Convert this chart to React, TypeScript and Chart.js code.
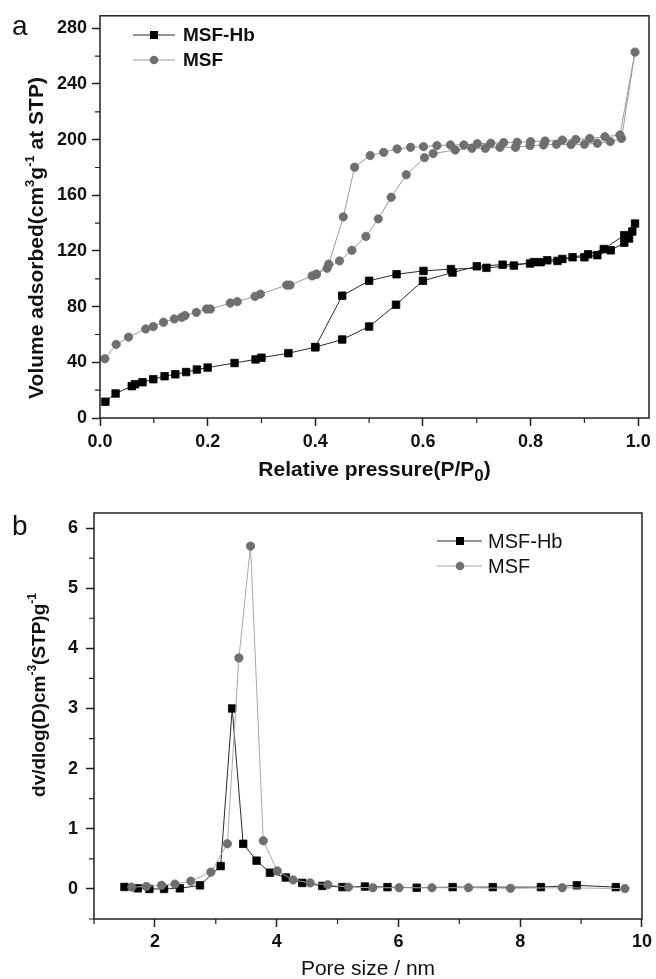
import React, { useEffect, useRef } from 'react';
import { Chart, registerables } from 'chart.js';

Chart.register(...registerables);

const FONT = '"Liberation Sans", Arial, Helvetica, sans-serif';

// ---- Panel a: N2 isotherms (adsorption then desorption, drawn as loops)
const hbPressure = [
  0.010, 0.029, 0.059, 0.065, 0.079, 0.099, 0.120, 0.140, 0.160, 0.180, 0.200, 0.250, 0.289, 0.300, 0.350, 0.400,
  0.450, 0.500, 0.550, 0.600, 0.655, 0.700, 0.748, 0.799, 0.819, 0.850, 0.878, 0.900, 0.924, 0.949, 0.974, 0.983, 0.994,
  0.989, 0.974, 0.936, 0.907, 0.859, 0.831, 0.806, 0.769, 0.718, 0.652, 0.601, 0.551, 0.500, 0.450, 0.400,
];
const hbVolume = [
  11.7, 17.6, 22.9, 24.3, 25.7, 27.9, 30.0, 31.4, 33.0, 34.8, 36.2, 39.5, 42.1, 43.3, 46.6, 50.9,
  56.4, 65.7, 81.4, 98.6, 104.5, 109.0, 110.2, 111.0, 112.0, 112.9, 115.5, 115.5, 117.0, 120.5, 126.0, 129.0, 139.7,
  134.0, 131.4, 121.4, 117.6, 114.3, 113.3, 112.0, 109.5, 107.9, 107.0, 105.7, 103.3, 98.6, 87.9, 50.9,
];
const msfPressure = [
  0.009, 0.030, 0.053, 0.085, 0.099, 0.118, 0.138, 0.152, 0.158, 0.179, 0.198, 0.205, 0.242, 0.255, 0.288, 0.298,
  0.347, 0.353, 0.394, 0.402, 0.422, 0.445, 0.468, 0.494, 0.517, 0.541, 0.569, 0.603, 0.619, 0.660, 0.691, 0.716,
  0.743, 0.772, 0.799, 0.824, 0.848, 0.875, 0.900, 0.924, 0.948, 0.969, 0.994,
  0.966, 0.938, 0.910, 0.884, 0.859, 0.827, 0.800, 0.775, 0.750, 0.726, 0.701, 0.676, 0.651, 0.626, 0.601, 0.577,
  0.552, 0.527, 0.502, 0.473, 0.452, 0.425, 0.402,
];
const msfVolume = [
  42.6, 52.9, 58.1, 64.0, 65.7, 68.8, 71.2, 72.4, 73.6, 75.9, 78.3, 78.3, 82.6, 83.6, 87.4, 89.0,
  95.5, 95.5, 102.1, 103.3, 107.6, 112.9, 120.5, 130.5, 143.1, 158.6, 174.8, 187.1, 190.0, 192.6, 193.8, 193.8,
  194.5, 194.5, 195.7, 196.2, 196.7, 196.5, 196.7, 197.4, 198.6, 200.9, 262.9,
  203.3, 202.1, 200.9, 200.2, 199.7, 199.0, 198.6, 198.1, 197.9, 197.4, 197.1, 196.2, 196.2, 195.7, 195.0, 194.5,
  193.3, 190.9, 188.6, 180.2, 144.5, 110.5, 103.3,
];

// ---- Panel b: pore size distribution
const hbPoreSize = [1.50, 1.72, 1.91, 2.15, 2.41, 2.74, 3.08, 3.27, 3.45, 3.67, 3.89, 4.15, 4.42, 4.75, 5.08, 5.45, 5.82, 6.30, 6.89, 7.55, 8.34, 8.93, 9.57];
const hbDv = [0.033, 0.01, 0.0, 0.0, 0.01, 0.06, 0.38, 3.0, 0.75, 0.47, 0.27, 0.19, 0.10, 0.05, 0.03, 0.04, 0.03, 0.02, 0.03, 0.03, 0.03, 0.06, 0.03];
const msfPoreSize = [1.62, 1.86, 2.11, 2.33, 2.59, 2.92, 3.19, 3.38, 3.57, 3.78, 4.01, 4.27, 4.55, 4.84, 5.18, 5.58, 6.01, 6.55, 7.15, 7.84, 8.69, 9.72];
const msfDv = [0.03, 0.04, 0.06, 0.08, 0.13, 0.28, 0.75, 3.84, 5.70, 0.80, 0.30, 0.15, 0.10, 0.07, 0.03, 0.02, 0.02, 0.02, 0.02, 0.01, 0.02, 0.005];

const seriesNames = ['MSF-Hb', 'MSF'];
const isoXMinor = [0.1, 0.3, 0.5, 0.7, 0.9];
const isoYMinor = [20, 60, 100, 140, 180, 220, 260];
const psdXMinor = [1, 3, 5, 7, 9];
const psdYMinor = [-0.5, 0.5, 1.5, 2.5, 3.5, 4.5, 5.5];

const toXY = (xs: number[], ys: number[]) => xs.map((x, i) => ({ x, y: ys[i] }));

type Seg = { t: string; size: number; dy: number };

function drawSegs(ctx: CanvasRenderingContext2D, segs: Seg[], weight: string, cx: number, baseY: number) {
  let total = 0;
  const widths: number[] = [];
  for (const s of segs) {
    ctx.font = `${weight} ${s.size}px ${FONT}`;
    const w = ctx.measureText(s.t).width;
    widths.push(w);
    total += w;
  }
  let x = cx - total / 2;
  ctx.textAlign = 'left';
  ctx.textBaseline = 'alphabetic';
  segs.forEach((s, i) => {
    ctx.font = `${weight} ${s.size}px ${FONT}`;
    ctx.fillText(s.t, x, baseY + s.dy);
    x += widths[i];
  });
}

interface Decor {
  letter: string;
  letterX: number;
  letterY: number;
  xTitle: Seg[];
  xTitleWeight: string;
  xTitleY: number;
  yTitle: Seg[];
  yTitleX: number;
  yTitleCY: number;
  xMinor: number[];
  yMinor: number[];
  legend: { x0: number; x1: number; xm: number; xt: number; ys: number[]; weight: string; size: number; lineColors: string[] };
}

function decorPlugin(d: Decor) {
  return {
    id: 'decor',
    afterDraw(chart: any) {
      const ctx: CanvasRenderingContext2D = chart.ctx;
      const a = chart.chartArea;
      const xs = chart.scales.x;
      const ys = chart.scales.y;
      ctx.save();
      // frame
      ctx.strokeStyle = '#222';
      ctx.lineWidth = 1.5;
      ctx.strokeRect(a.left, a.top, a.right - a.left, a.bottom - a.top);
      // minor ticks
      ctx.lineWidth = 1.2;
      ctx.beginPath();
      for (const v of d.xMinor) {
        const px = xs.getPixelForValue(v);
        ctx.moveTo(px, a.bottom);
        ctx.lineTo(px, a.bottom + 5);
      }
      for (const v of d.yMinor) {
        const py = ys.getPixelForValue(v);
        ctx.moveTo(a.left, py);
        ctx.lineTo(a.left - 5, py);
      }
      ctx.stroke();
      // legend
      const L = d.legend;
      d.legend.ys.forEach((y, i) => {
        ctx.strokeStyle = L.lineColors[i];
        ctx.lineWidth = 1;
        ctx.beginPath();
        ctx.moveTo(L.x0, y);
        ctx.lineTo(L.x1, y);
        ctx.stroke();
        if (i === 0) {
          ctx.fillStyle = '#000';
          ctx.fillRect(L.xm - 4, y - 4, 8, 8);
        } else {
          ctx.fillStyle = '#6f6f6f';
          ctx.beginPath();
          ctx.arc(L.xm, y, 4.3, 0, Math.PI * 2);
          ctx.fill();
        }
        ctx.fillStyle = '#111';
        ctx.font = `${L.weight} ${L.size}px ${FONT}`;
        ctx.textAlign = 'left';
        ctx.textBaseline = 'middle';
        ctx.fillText(seriesNames[i], L.xt, y + 1);
      });
      // panel letter
      ctx.fillStyle = '#111';
      ctx.font = `normal 28px ${FONT}`;
      ctx.textAlign = 'left';
      ctx.textBaseline = 'alphabetic';
      ctx.fillText(d.letter, d.letterX, d.letterY);
      // x title
      drawSegs(ctx, d.xTitle, d.xTitleWeight, (a.left + a.right) / 2, d.xTitleY);
      // y title
      ctx.translate(d.yTitleX, d.yTitleCY);
      ctx.rotate(-Math.PI / 2);
      drawSegs(ctx, d.yTitle, 'bold', 0, 0);
      ctx.restore();
    },
  };
}

function axisCommon(tickSize: number, pad: number) {
  return {
    type: 'linear' as const,
    grid: {
      drawOnChartArea: false,
      drawTicks: true,
      tickLength: 8,
      tickWidth: 1.5,
      tickColor: '#222',
    },
    border: { display: false },
    ticks: {
      font: { family: FONT, size: tickSize, weight: 'bold' as const },
      color: '#111',
      padding: pad,
      includeBounds: false,
    },
  };
}

function makeChart(
  canvas: HTMLCanvasElement,
  datasets: any[],
  x: { min: number; max: number; step: number; digits: number; height: number; pad: number },
  y: { min: number; max: number; step: number; width: number; pad: number },
  padding: { top: number; right: number },
  decor: Decor,
) {
  const xc = axisCommon(18, x.pad);
  const yc = axisCommon(18, y.pad);
  return new Chart(canvas, {
    type: 'scatter',
    data: { datasets },
    options: {
      responsive: false,
      animation: false,
      events: [],
      layout: { padding: { top: padding.top, right: padding.right, left: 0, bottom: 0 } },
      plugins: { legend: { display: false }, tooltip: { enabled: false } },
      scales: {
        x: {
          ...xc,
          min: x.min,
          max: x.max,
          ticks: { ...xc.ticks, stepSize: x.step, callback: (v: any) => Number(v).toFixed(x.digits) },
          afterFit: (s: any) => {
            s.height = x.height;
          },
        },
        y: {
          ...yc,
          min: y.min,
          max: y.max,
          ticks: { ...yc.ticks, stepSize: y.step, callback: (v: any) => String(Math.round(Number(v))) },
          afterFit: (s: any) => {
            s.width = y.width;
          },
        },
      },
    } as any,
    plugins: [decorPlugin(decor)],
  });
}

function ds(label: string, data: any[], style: 'rect' | 'circle', order: number, line: string, radius: number) {
  const fill = style === 'rect' ? '#000' : '#6f6f6f';
  return {
    label,
    data,
    showLine: true,
    tension: 0,
    borderColor: line,
    borderWidth: 1,
    pointStyle: style,
    pointRadius: radius,
    pointBackgroundColor: fill,
    pointBorderColor: fill,
    pointBorderWidth: 0.8,
    order,
  };
}

export default function App() {
  const refA = useRef<HTMLCanvasElement>(null);
  const refB = useRef<HTMLCanvasElement>(null);

  useEffect(() => {
    const chartA = makeChart(
      refA.current!,
      [
        ds(seriesNames[0], toXY(hbPressure, hbVolume), 'rect', 1, '#2a2a2a', 5.3),
        ds(seriesNames[1], toXY(msfPressure, msfVolume), 'circle', 0, '#9a9a9a', 4.2),
      ],
      { min: 0, max: 1.02, step: 0.2, digits: 1, height: 72, pad: 5 },
      { min: 0, max: 289, step: 40, width: 100, pad: 5 },
      { top: 13, right: 7 },
      {
        letter: 'a',
        letterX: 12,
        letterY: 35,
        xTitle: [
          { t: 'Relative pressure(P/P', size: 21, dy: 0 },
          { t: '0', size: 17, dy: 5 },
          { t: ')', size: 21, dy: 0 },
        ],
        xTitleWeight: 'bold',
        xTitleY: 476,
        yTitle: [
          { t: 'Volume adsorbed(cm', size: 21, dy: 0 },
          { t: '3', size: 13, dy: -9 },
          { t: 'g', size: 21, dy: 0 },
          { t: '-1', size: 13, dy: -9 },
          { t: ' at STP)', size: 21, dy: 0 },
        ],
        yTitleX: 43,
        yTitleCY: 238,
        xMinor: isoXMinor,
        yMinor: isoYMinor,
        legend: { x0: 133, x1: 175, xm: 154, xt: 183, ys: [35, 60], weight: 'bold', size: 19, lineColors: ['#2a2a2a', '#9a9a9a'] },
      },
    );
    const chartB = makeChart(
      refB.current!,
      [
        ds(seriesNames[0], toXY(hbPoreSize, hbDv), 'rect', 1, '#2a2a2a', 5.3),
        ds(seriesNames[1], toXY(msfPoreSize, msfDv), 'circle', 0, '#a8a8a8', 4.2),
      ],
      { min: 1, max: 10, step: 2, digits: 0, height: 60, pad: 4 },
      { min: -0.5, max: 6.25, step: 1, width: 94, pad: 8 },
      { top: 23, right: 14 },
      {
        letter: 'b',
        letterX: 12,
        letterY: 45,
        xTitle: [{ t: 'Pore size / nm', size: 21, dy: 0 }],
        xTitleWeight: 'normal',
        xTitleY: 485,
        yTitle: [
          { t: 'dv/dlog(D)cm', size: 19, dy: 0 },
          { t: '-3', size: 12, dy: -9 },
          { t: '(STP)g', size: 19, dy: 0 },
          { t: '-1', size: 12, dy: -9 },
        ],
        yTitleX: 45,
        yTitleCY: 205,
        xMinor: psdXMinor,
        yMinor: psdYMinor,
        legend: { x0: 437, x1: 482, xm: 460, xt: 488, ys: [51, 76], weight: 'normal', size: 20, lineColors: ['#2a2a2a', '#a8a8a8'] },
      },
    );
    return () => {
      chartA.destroy();
      chartB.destroy();
    };
  }, []);

  return (
    <div style={{ position: 'absolute', left: 0, top: 0, width: 656, height: 979, background: '#fff' }}>
      <canvas ref={refA} width={656} height={490} style={{ display: 'block', width: 656, height: 490 }} />
      <canvas ref={refB} width={656} height={489} style={{ display: 'block', width: 656, height: 489 }} />
    </div>
  );
}
